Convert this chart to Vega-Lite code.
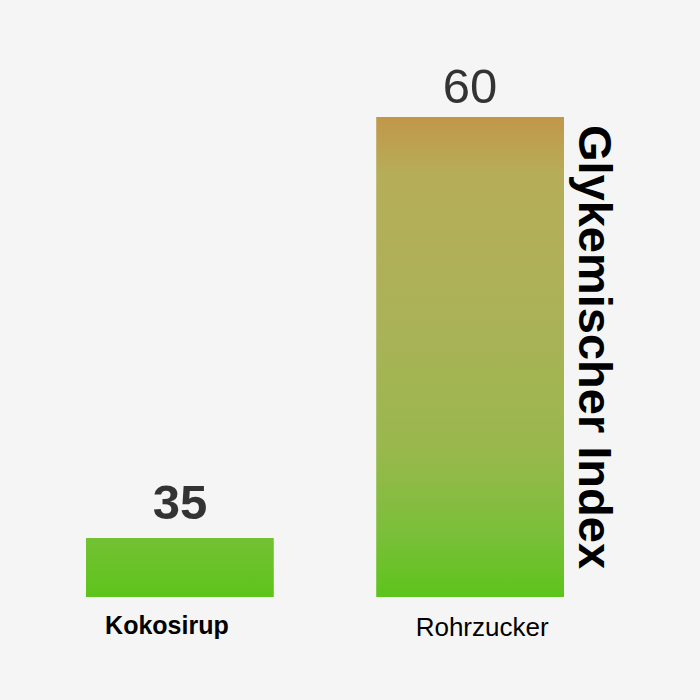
{
  "$schema": "https://vega.github.io/schema/vega-lite/v6.json",
  "width": 478,
  "height": 501,
  "autosize": {"type": "none"},
  "padding": {"left": 86, "top": 96, "right": 136, "bottom": 103},
  "background": "#f5f5f5",
  "config": {"view": {"stroke": null}},
  "data": {"values": [
    {"item": "Kokosirup", "gi": 35},
    {"item": "Rohrzucker", "gi": 60}
  ]},
  "encoding": {
    "x": {
      "field": "item", "type": "nominal", "sort": null,
      "scale": {"paddingInner": 0.353, "paddingOuter": 0},
      "axis": {
        "title": null, "domain": false, "ticks": false, "grid": false,
        "labelAngle": 0, "labelFont": "Liberation Sans",
        "labelFontSize": {"condition": {"test": "datum.value === 'Kokosirup'", "value": 25}, "value": 26},
        "labelColor": "#000000", "labelBaseline": "alphabetic",
        "labelFontWeight": {"condition": {"test": "datum.value === 'Kokosirup'", "value": "bold"}, "value": "normal"},
        "labelOffset": {"condition": {"test": "datum.value === 'Kokosirup'", "value": -13}, "value": 12},
        "labelPadding": {"condition": {"test": "datum.value === 'Kokosirup'", "value": 36}, "value": 38}
      }
    },
    "y": {
      "field": "gi", "type": "quantitative",
      "scale": {"domain": [31.5, 61.25], "zero": false, "nice": false},
      "axis": {
        "orient": "right", "title": "Glykemischer Index",
        "labels": false, "ticks": false, "domain": false, "grid": false,
        "titleFont": "Liberation Sans", "titleFontSize": 47, "titleFontWeight": "bold",
        "titleColor": "#000000", "titleAngle": 90, "titleBaseline": "alphabetic",
        "titlePadding": 14
      }
    }
  },
  "layer": [
    {
      "mark": {"type": "bar"},
      "encoding": {
        "y2": {"datum": 31.5},
        "color": {
          "condition": {
            "test": "datum.item === 'Kokosirup'",
            "value": {
              "gradient": "linear", "x1": 0, "y1": 0, "x2": 0, "y2": 1,
              "stops": [
                {"offset": 0, "color": "#74c134"},
                {"offset": 1, "color": "#5dc41b"}
              ]
            }
          },
          "value": {
            "gradient": "linear", "x1": 0, "y1": 0, "x2": 0, "y2": 1,
            "stops": [
              {"offset": 0, "color": "#c1974a"},
              {"offset": 0.12, "color": "#b6ad58"},
              {"offset": 0.45, "color": "#a9b257"},
              {"offset": 0.7, "color": "#98b84c"},
              {"offset": 0.87, "color": "#7abf39"},
              {"offset": 1, "color": "#5dc41b"}
            ]
          }
        }
      }
    },
    {
      "transform": [{"filter": "datum.item === 'Kokosirup'"}],
      "mark": {"type": "text", "baseline": "alphabetic", "dy": -19, "font": "Liberation Sans", "fontSize": 49, "fontWeight": "bold", "color": "#333333"},
      "encoding": {"text": {"field": "gi", "type": "quantitative"}}
    },
    {
      "transform": [{"filter": "datum.item === 'Rohrzucker'"}],
      "mark": {"type": "text", "baseline": "alphabetic", "dy": -14, "font": "Liberation Sans", "fontSize": 49, "fontWeight": "normal", "color": "#333333"},
      "encoding": {"text": {"field": "gi", "type": "quantitative"}}
    }
  ]
}
